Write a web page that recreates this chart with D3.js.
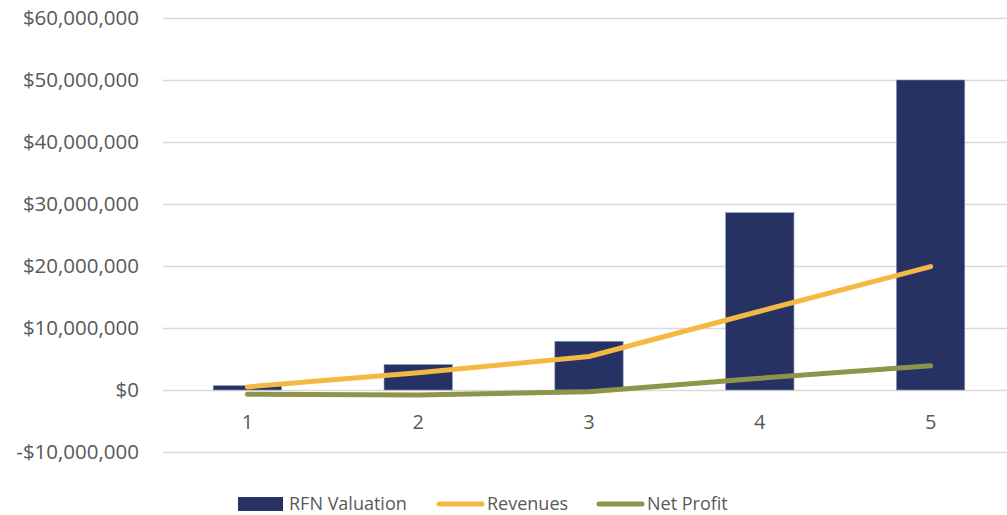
<!DOCTYPE html>
<html>
<head>
<meta charset="utf-8">
<script src="https://cdn.jsdelivr.net/npm/d3@7"></script>
<style>
  body { margin: 0; background: #fff; }
  text { font-family: "Open Sans", sans-serif; fill: #595959; }
</style>
</head>
<body>
<div id="chart"></div>
<script>
// data
var years = ["1", "2", "3", "4", "5"];
var valuation = [700000, 4100000, 7850000, 28600000, 50000000];
var revenues = [500000, 2800000, 5400000, 12700000, 19900000];
var netProfit = [-700000, -800000, -300000, 1900000, 3900000];
var yTicks = [-10000000, 0, 10000000, 20000000, 30000000, 40000000, 50000000, 60000000];

//setup
var svgWidth = 1007;
var svgHeight = 515;

var svg = d3.select("#chart")
    .append("svg")
    .attr("width", svgWidth)
    .attr("height", svgHeight);

var x = d3.scaleBand()
    .domain(years)
    .range([162, 1016])
    .paddingInner(0.6)
    .paddingOuter(0.3);

var y = d3.scaleLinear()
    .domain([-10000000, 60000000])
    .range([452, 18]);

var fmt = function (d) {
    return d < 0 ? "-$" + d3.format(",")(-d) : "$" + d3.format(",")(d);
};

// gridlines + y labels
var yAxis = svg.append("g")
    .attr("transform", "translate(163,0)")
    .call(d3.axisLeft(y).tickValues(yTicks).tickSize(-900).tickPadding(24).tickFormat(fmt));
yAxis.select(".domain").remove();
yAxis.selectAll("line").attr("stroke", "#d9d9d9").attr("stroke-width", 1.5);
yAxis.selectAll("text")
    .style("font-size", "20.5px")
    .style("font-family", "'Open Sans', sans-serif")
    .attr("fill", "#595959");

// bars
svg.append("g")
    .selectAll("rect")
    .data(valuation)
    .enter()
    .append("rect")
    .attr("x", function (d, i) { return x(years[i]); })
    .attr("y", function (d) { return y(Math.max(d, 0)); })
    .attr("width", x.bandwidth())
    .attr("height", function (d) { return Math.abs(y(d) - y(0)); })
    .attr("fill", "#263264")
    .attr("stroke", "#8a93b5")
    .attr("stroke-width", 0.6);

// x labels
svg.append("g")
    .selectAll("text")
    .data(years)
    .enter()
    .append("text")
    .attr("x", function (d) { return x(d) + x.bandwidth() / 2; })
    .attr("y", 422)
    .attr("dy", "0.35em")
    .attr("text-anchor", "middle")
    .style("font-size", "20px")
    .text(function (d) { return d; });

// lines
var line = d3.line()
    .x(function (d, i) { return x(years[i]) + x.bandwidth() / 2; })
    .y(function (d) { return y(d); });

svg.append("path")
    .datum(netProfit)
    .attr("d", line)
    .attr("fill", "none")
    .attr("stroke", "#8e9548")
    .attr("stroke-width", 5)
    .attr("stroke-linecap", "round")
    .attr("stroke-linejoin", "round");

svg.append("path")
    .datum(revenues)
    .attr("d", line)
    .attr("fill", "none")
    .attr("stroke", "#f4b942")
    .attr("stroke-width", 5)
    .attr("stroke-linecap", "round")
    .attr("stroke-linejoin", "round");

// legend
var legend = svg.append("g");
legend.append("rect")
    .attr("x", 238).attr("y", 497).attr("width", 45).attr("height", 14)
    .attr("fill", "#263264");
legend.append("text")
    .attr("x", 289).attr("y", 504).attr("dy", "0.35em")
    .style("font-size", "18px")
    .text("RFN Valuation");

legend.append("line")
    .attr("x1", 439).attr("x2", 482).attr("y1", 504).attr("y2", 504)
    .attr("stroke", "#f4b942").attr("stroke-width", 5).attr("stroke-linecap", "round");
legend.append("text")
    .attr("x", 487).attr("y", 504).attr("dy", "0.35em")
    .style("font-size", "18px")
    .text("Revenues");

legend.append("line")
    .attr("x1", 599).attr("x2", 642).attr("y1", 504).attr("y2", 504)
    .attr("stroke", "#8e9548").attr("stroke-width", 5).attr("stroke-linecap", "round");
legend.append("text")
    .attr("x", 647).attr("y", 504).attr("dy", "0.35em")
    .style("font-size", "18px")
    .text("Net Profit");
</script>
</body>
</html>
